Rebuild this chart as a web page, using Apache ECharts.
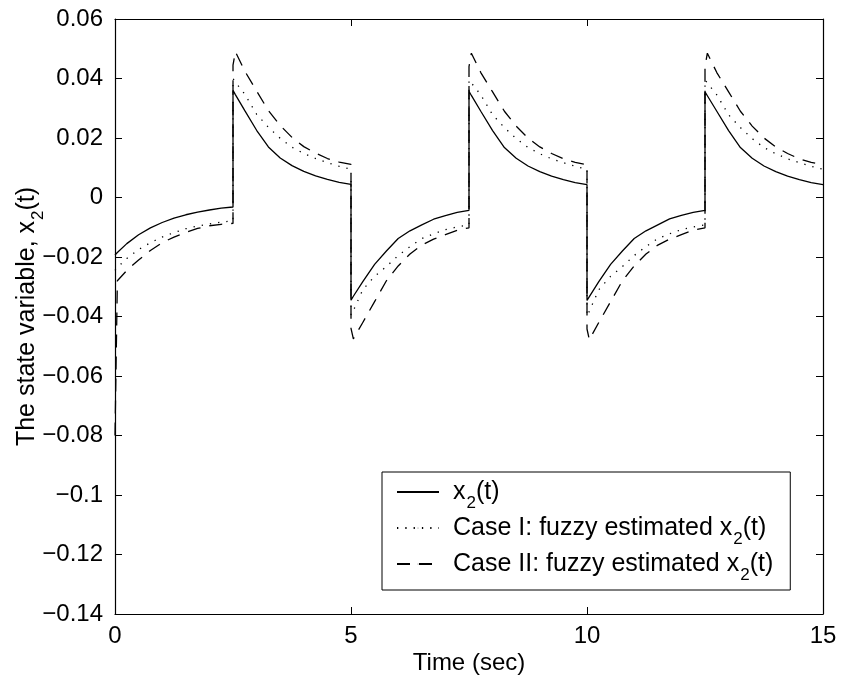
<!DOCTYPE html>
<html>
<head>
<meta charset="UTF-8">
<title>x2 state estimation</title>
<script src="https://cdn.jsdelivr.net/npm/echarts@6/dist/echarts.min.js"></script>
<style>
  html, body { margin: 0; padding: 0; background: #fff; }
  #chart { width: 842px; height: 686px; }
</style>
</head>
<body>
<div id="chart"></div>
<script>
    // time samples (sec); each switching instant appears twice (before / after the jump)
    var timeSec = [
        0, 0.05, 0.25, 0.5, 0.75, 1.0, 1.25, 1.5, 1.75, 2.0, 2.25, 2.5,
        2.5, 2.55, 2.75, 3.0, 3.25, 3.5, 3.75, 4.0, 4.25, 4.5, 4.75, 5.0,
        5.0, 5.05, 5.25, 5.5, 5.75, 6.0, 6.25, 6.5, 6.75, 7.0, 7.25, 7.5,
        7.5, 7.55, 7.75, 8.0, 8.25, 8.5, 8.75, 9.0, 9.25, 9.5, 9.75, 10.0,
        10.0, 10.05, 10.25, 10.5, 10.75, 11.0, 11.25, 11.5, 11.75, 12.0, 12.25, 12.5,
        12.5, 12.55, 12.75, 13.0, 13.25, 13.5, 13.75, 14.0, 14.25, 14.5, 14.75, 15.0
    ];
    // x2(t)
    var x2True = [
        -0.0193, -0.0185, -0.0155, -0.0125, -0.0102, -0.0084, -0.0069, -0.0058, -0.0049, -0.0042, -0.0036, -0.0032,
        0.0360, 0.0346, 0.0292, 0.0226, 0.0170, 0.0133, 0.0107, 0.0088, 0.0073, 0.0061, 0.0051, 0.0044,
        -0.0345, -0.0332, -0.0283, -0.0225, -0.0180, -0.0138, -0.0112, -0.0092, -0.0073, -0.0061, -0.0050, -0.0043,
        0.0357, 0.0343, 0.0290, 0.0225, 0.0168, 0.0132, 0.0106, 0.0087, 0.0072, 0.0060, 0.0050, 0.0043,
        -0.0346, -0.0333, -0.0283, -0.0225, -0.0180, -0.0138, -0.0112, -0.0092, -0.0072, -0.0060, -0.0050, -0.0043,
        0.0355, 0.0342, 0.0290, 0.0225, 0.0168, 0.0132, 0.0106, 0.0087, 0.0072, 0.0060, 0.0050, 0.0043
    ];
    // Case I: fuzzy estimated x2(t)
    var x2CaseI = [
        -0.0245, -0.0235, -0.0205, -0.0175, -0.0152, -0.0133, -0.0118, -0.0105, -0.0096, -0.0089, -0.0083, -0.0078,
        0.0400, 0.0388, 0.0347, 0.0280, 0.0236, 0.0199, 0.0169, 0.0148, 0.0131, 0.0117, 0.0105, 0.0095,
        -0.0395, -0.0380, -0.0310, -0.0265, -0.0232, -0.0195, -0.0165, -0.0138, -0.0122, -0.0108, -0.0099, -0.0092,
        0.0395, 0.0385, 0.0345, 0.0278, 0.0235, 0.0198, 0.0168, 0.0147, 0.0130, 0.0117, 0.0105, 0.0095,
        -0.0398, -0.0382, -0.0310, -0.0265, -0.0232, -0.0195, -0.0165, -0.0138, -0.0122, -0.0108, -0.0099, -0.0092,
        0.0395, 0.0385, 0.0345, 0.0278, 0.0235, 0.0198, 0.0168, 0.0147, 0.0130, 0.0117, 0.0105, 0.0095
    ];
    // Case II: fuzzy estimated x2(t)
    var x2CaseII = [
        -0.0800, -0.0280, -0.0245, -0.0210, -0.0178, -0.0152, -0.0133, -0.0117, -0.0104, -0.0095, -0.0090, -0.0087,
        0.0445, 0.0490, 0.0425, 0.0358, 0.0292, 0.0242, 0.0202, 0.0171, 0.0149, 0.0131, 0.0119, 0.0111,
        -0.0440, -0.0475, -0.0420, -0.0350, -0.0280, -0.0230, -0.0190, -0.0160, -0.0140, -0.0125, -0.0110, -0.0102,
        0.0440, 0.0485, 0.0420, 0.0355, 0.0290, 0.0240, 0.0200, 0.0170, 0.0148, 0.0130, 0.0118, 0.0110,
        -0.0442, -0.0478, -0.0420, -0.0350, -0.0280, -0.0230, -0.0190, -0.0160, -0.0140, -0.0125, -0.0110, -0.0102,
        0.0440, 0.0485, 0.0420, 0.0355, 0.0290, 0.0240, 0.0200, 0.0170, 0.0148, 0.0130, 0.0118, 0.0110
    ];
    var seriesNames = ['x2(t)', 'Case I: fuzzy estimated x2(t)', 'Case II: fuzzy estimated x2(t)'];
    var xTicks = [0, 15, 5];        // min, max, interval
    var yTicks = [-0.14, 0.06, 0.02];

    var FONT = '"Liberation Sans", Arial, Helvetica, sans-serif';

    function pairs(vals) {
        var out = [];
        for (var i = 0; i < timeSec.length; i++) out.push([timeSec[i], vals[i]]);
        return out;
    }
    // "x2(t)" -> rich text with subscript 2
    function subText(s) {
        return '{n|' + s.replace('x2(t)', 'x}{s|2}{n|(t)') + '}';
    }
    function yFmt(v) {
        var r = Math.round(v * 100) / 100;
        return r < 0 ? '\u2212' + String(-r) : String(r);
    }
    function richSub(size) {
        return {
            n: {fontSize: size, lineHeight: 24, verticalAlign: 'top', fontFamily: FONT, color: '#000'},
            s: {fontSize: 17, lineHeight: 17, padding: [15, 0, 0, 1], verticalAlign: 'top', fontFamily: FONT, color: '#000'}
        };
    }

    function boxAxis(pos, range, isX, main) {
        var a = {
            type: 'value',
            position: pos,
            min: range[0],
            max: range[1],
            interval: range[2],
            axisLine: {show: true, onZero: false, lineStyle: {color: '#000', width: 1.2}},
            axisTick: {show: true, inside: true, length: 7, lineStyle: {color: '#000', width: 1}},
            splitLine: {show: false},
            axisLabel: {show: false}
        };
        if (main) {
            a.axisLabel = {
                show: true, color: '#000', fontSize: 24, fontFamily: FONT,
                margin: isX ? 10 : 12,
                formatter: isX ? function (v) { return String(v); } : yFmt
            };
        }
        return a;
    }

    var xMain = boxAxis('bottom', xTicks, true, true);
    xMain.name = 'Time (sec)';
    xMain.nameLocation = 'middle';
    xMain.nameGap = 37;
    xMain.nameMoveOverlap = false;
    xMain.nameTextStyle = {color: '#000', fontSize: 24, fontFamily: FONT};

    var yMain = boxAxis('left', yTicks, false, true);
    yMain.name = subText('The state variable, x2(t)');
    yMain.nameLocation = 'middle';
    yMain.nameGap = 76;
    yMain.nameMoveOverlap = false;
    yMain.nameTextStyle = {rich: richSub(25)};

    var chart = echarts.init(document.getElementById('chart'));
    var option = {
        backgroundColor: '#fff',
        animation: false,
        grid: {left: 115, right: 19, top: 19, bottom: 72, containLabel: false, outerBoundsMode: 'none'},
        xAxis: [xMain, boxAxis('top', xTicks, true, false)],
        yAxis: [yMain, boxAxis('right', yTicks, false, false)],
        legend: {
            orient: 'vertical',
            left: 382,
            top: 472,
            padding: [8, 17, 6, 14],
            itemGap: 4,
            itemWidth: 42,
            itemHeight: 1,
            borderColor: '#000',
            borderWidth: 1,
            backgroundColor: '#fff',
            data: seriesNames,
            formatter: subText,
            textStyle: {rich: richSub(25), padding: [0, 0, 0, 9]}
        },
        series: [
            {
                name: seriesNames[0], type: 'line', showSymbol: false, symbol: 'none',
                lineStyle: {color: '#000', width: 1.3, type: 'solid'},
                itemStyle: {color: '#000'},
                data: pairs(x2True)
            },
            {
                name: seriesNames[1], type: 'line', showSymbol: false, symbol: 'none',
                lineStyle: {color: '#000', width: 1.3, type: [1.3, 7]},
                itemStyle: {color: '#000'},
                data: pairs(x2CaseI)
            },
            {
                name: seriesNames[2], type: 'line', showSymbol: false, symbol: 'none',
                lineStyle: {color: '#000', width: 1.3, type: [13, 9]},
                itemStyle: {color: '#000'},
                data: pairs(x2CaseII)
            }
        ]
    };
    chart.setOption(option);
</script>
</body>
</html>
